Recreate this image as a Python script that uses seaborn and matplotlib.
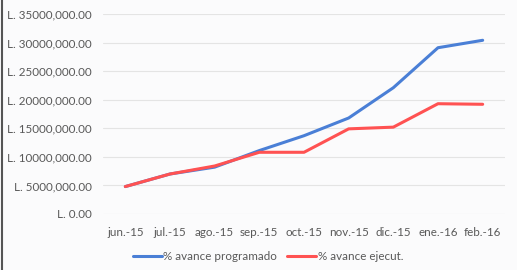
import numpy as np
import pandas as pd
import matplotlib
matplotlib.use("Agg")
import matplotlib.pyplot as plt
import seaborn as sns

months = ["jun.-15", "jul.-15", "ago.-15", "sep.-15", "oct.-15",
          "nov.-15", "dic.-15", "ene.-16", "feb.-16"]
programado = [4.8e6, 7.0e6, 8.2e6, 11.1e6, 13.7e6, 16.8e6, 22.1e6, 29.1e6, 30.4e6]
ejecutado = [4.8e6, 7.0e6, 8.4e6, 10.8e6, 10.8e6, 14.9e6, 15.2e6, 19.3e6, 19.2e6]
y_ticks = [0, 5e6, 10e6, 15e6, 20e6, 25e6, 30e6, 35e6]
y_labels = ["L. 0.00", "L. 5000,000.00", "L. 10000,000.00", "L. 15000,000.00",
            "L. 20000,000.00", "L. 25000,000.00", "L. 30000,000.00", "L. 35000,000.00"]

df = pd.DataFrame({
    "mes": months * 2,
    "valor": programado + ejecutado,
    "serie": ["% avance programado"] * len(months) + ["% avance ejecut."] * len(months),
})

sns.set_style("white")
plt.rcParams["font.family"] = ["Lato", "DejaVu Sans"]

fig = plt.figure(figsize=(5.17, 2.70), dpi=100, facecolor="#fbfbfc")
ax = fig.add_axes([103 / 517, 1 - 214 / 270, 402 / 517, 200 / 270])
ax.set_facecolor("#fbfbfc")

sns.lineplot(data=df, x="mes", y="valor", hue="serie", sort=False, ax=ax,
             palette=["#4a7fd6", "#ff5252"], linewidth=2.2, legend=True)

ax.set_xlim(-0.5, len(months) - 0.5)
ax.set_ylim(0, 35e6)
ax.set_yticks(y_ticks)
ax.set_yticklabels(y_labels)
ax.yaxis.grid(True, color="#e4e4e4", linewidth=0.8)
ax.set_axisbelow(True)
for s in ax.spines.values():
    s.set_visible(False)
ax.tick_params(axis="both", length=0, labelsize=8.4, colors="#595959")
ax.tick_params(axis="y", pad=8)
ax.tick_params(axis="x", pad=9)
ax.set_xlabel("")
ax.set_ylabel("")

leg = ax.legend(loc="upper center", bbox_to_anchor=(0.41, -0.135), ncol=2,
                frameon=False, fontsize=8.4, handlelength=2.5, handletextpad=0.1,
                columnspacing=0.9)
for t in leg.get_texts():
    t.set_color("#595959")

# dark left border seen in the screenshot
fig.add_artist(plt.Line2D([0.004, 0.004], [0, 1], color="#555555", linewidth=1.5))

fig.savefig("out.png", dpi=100, facecolor=fig.get_facecolor())
